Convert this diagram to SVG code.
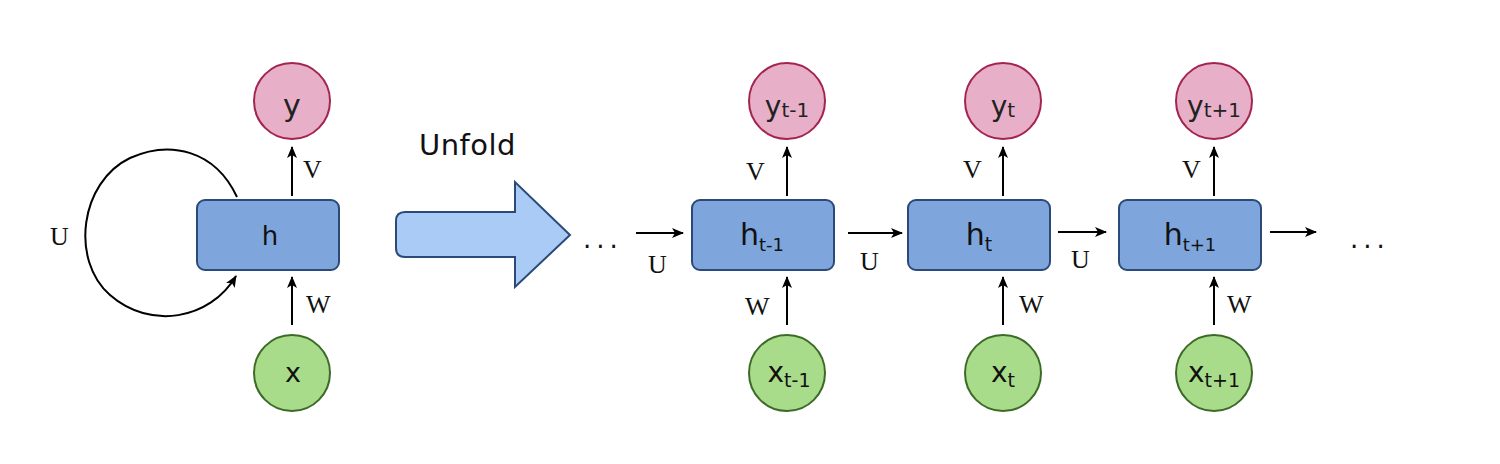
<svg xmlns="http://www.w3.org/2000/svg" width="1500" height="464" viewBox="0 0 1500 464">
<defs>
<marker id="ah" viewBox="0 0 12 10" refX="11" refY="5" markerWidth="12" markerHeight="10" markerUnits="userSpaceOnUse" orient="auto">
<path d="M0,0 L12,5 L0,10 L3,5 Z" fill="#000"/>
</marker>
</defs>
<style>
.box{fill:#7ea6dd;stroke:#2b4a78;stroke-width:2}
.yc{fill:#e8b0c8;stroke:#a3254f;stroke-width:2}
.xc{fill:#a9dc8a;stroke:#3d6b27;stroke-width:2}
.conn{stroke:#000;stroke-width:2;fill:none;marker-end:url(#ah)}
.lbl{font-family:"Liberation Serif","DejaVu Serif",serif;font-size:26px;fill:#111}
.nt{font-family:"DejaVu Sans","Noto Sans",sans-serif;fill:#111;text-anchor:middle}
.hw{font-family:"DejaVu Sans","Noto Sans",sans-serif;fill:#222;text-anchor:middle}
.dots{font-family:"DejaVu Sans",sans-serif;font-size:26px;fill:#111;letter-spacing:5px}
</style>
<rect width="1500" height="464" fill="#fff"/>

<g id="connectors">
<path class="conn" d="M237,197 C215,150 170,140 130,158 C80,182 70,260 110,295 C150,330 210,320 236,276"/>
<line class="conn" x1="292" y1="196" x2="292" y2="147"/>
<line class="conn" x1="292" y1="325" x2="292" y2="277"/>
<line class="conn" x1="636" y1="233" x2="683" y2="233"/>
<line class="conn" x1="787" y1="196" x2="787" y2="147"/>
<line class="conn" x1="787" y1="325" x2="787" y2="277"/>
<line class="conn" x1="848" y1="233" x2="902" y2="233"/>
<line class="conn" x1="1003" y1="196" x2="1003" y2="147"/>
<line class="conn" x1="1003" y1="325" x2="1003" y2="277"/>
<line class="conn" x1="1058" y1="232" x2="1106" y2="232"/>
<line class="conn" x1="1214" y1="196" x2="1214" y2="147"/>
<line class="conn" x1="1214" y1="325" x2="1214" y2="277"/>
<line class="conn" x1="1270" y1="232" x2="1316" y2="232"/>
<text class="lbl" x="50" y="245">U</text>
<text class="lbl" x="303" y="178">V</text>
<text class="lbl" x="306" y="313">W</text>
<text class="lbl" x="648" y="273">U</text>
<text class="lbl" x="746" y="180">V</text>
<text class="lbl" x="745" y="315">W</text>
<text class="lbl" x="860" y="270">U</text>
<text class="lbl" x="963" y="178">V</text>
<text class="lbl" x="1019" y="313">W</text>
<text class="lbl" x="1071" y="268">U</text>
<text class="lbl" x="1182" y="178">V</text>
<text class="lbl" x="1227" y="313">W</text>
<text class="dots" x="583" y="248">...</text>
<text class="dots" x="1350" y="248">...</text>
</g>

<g id="unfold">
<path d="M405,212 L515,212 L515,182 L570,235 L515,287 L515,257 L405,257 Q396,257 396,248 L396,221 Q396,212 405,212 Z" fill="#a9cbf6" stroke="#2b4a78" stroke-width="2"/>
<text x="419" y="155" font-family="DejaVu Sans,sans-serif" font-size="29" letter-spacing="0.5" fill="#111">Unfold</text>
</g>

<g id="node-h">
<rect class="box" x="197" y="200" width="142" height="70" rx="8"/>
<text class="nt" x="270" y="245" font-size="26">h</text>
</g>
<g id="node-y">
<circle class="yc" cx="292" cy="101" r="38"/>
<text class="hw" x="292" y="116" font-size="30">y</text>
</g>
<g id="node-x">
<circle class="xc" cx="292" cy="373" r="38"/>
<text class="nt" x="293" y="382" font-size="27">x</text>
</g>

<g id="node-h-t-1">
<rect class="box" x="692" y="200" width="142" height="70" rx="8"/>
<text class="nt" x="762" y="245" font-size="30">h<tspan font-size="18" dy="6">t-1</tspan></text>
</g>
<g id="node-y-t-1">
<circle class="yc" cx="787" cy="101" r="38"/>
<text class="hw" x="787" y="116" font-size="28">y<tspan font-size="20" dy="1">t-1</tspan></text>
</g>
<g id="node-x-t-1">
<circle class="xc" cx="787" cy="373" r="38"/>
<text class="nt" x="789" y="382" font-size="28">x<tspan font-size="19" dy="5">t-1</tspan></text>
</g>

<g id="node-h-t">
<rect class="box" x="908" y="200" width="142" height="70" rx="8"/>
<text class="nt" x="979" y="245" font-size="30">h<tspan font-size="19" dy="6">t</tspan></text>
</g>
<g id="node-y-t">
<circle class="yc" cx="1003" cy="101" r="38"/>
<text class="hw" x="1003" y="116" font-size="28">y<tspan font-size="20" dy="1">t</tspan></text>
</g>
<g id="node-x-t">
<circle class="xc" cx="1003" cy="373" r="38"/>
<text class="nt" x="1003" y="382" font-size="28">x<tspan font-size="19" dy="5">t</tspan></text>
</g>

<g id="node-h-t1">
<rect class="box" x="1119" y="200" width="142" height="70" rx="8"/>
<text class="nt" x="1190" y="245" font-size="30">h<tspan font-size="18" dy="6">t+1</tspan></text>
</g>
<g id="node-y-t1">
<circle class="yc" cx="1214" cy="101" r="38"/>
<text class="hw" x="1214" y="116" font-size="28">y<tspan font-size="20" dy="1">t+1</tspan></text>
</g>
<g id="node-x-t1">
<circle class="xc" cx="1214" cy="373" r="38"/>
<text class="nt" x="1214" y="382" font-size="28">x<tspan font-size="19" dy="5">t+1</tspan></text>
</g>
</svg>
